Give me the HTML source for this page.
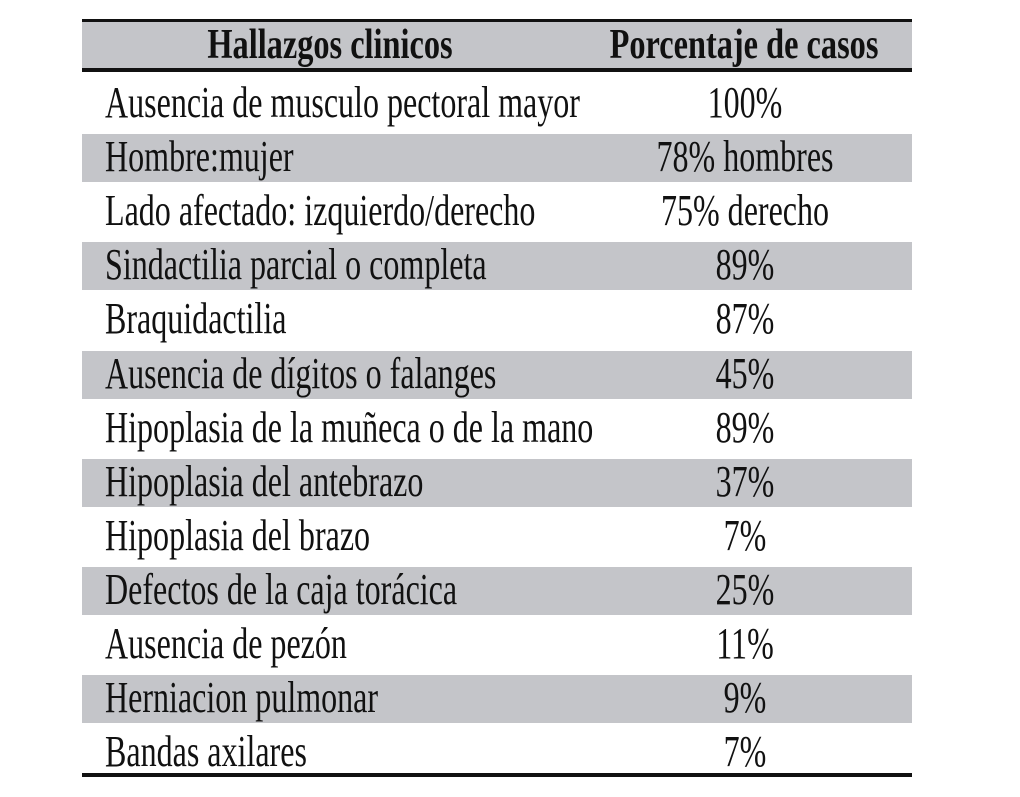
<!DOCTYPE html>
<html><head><meta charset="utf-8">
<style>
html,body{margin:0;padding:0;background:#fff;}
#tbl{position:relative;width:1020px;height:797px;overflow:hidden;font-family:"Liberation Serif",serif;color:#111;}
.line{position:absolute;left:82px;width:830px;background:#111;}
.band{position:absolute;left:82px;width:830px;background:#c4c5c9;}
.txt{position:absolute;white-space:nowrap;font-size:44px;line-height:44px;}
.l{left:105px;transform:scaleX(0.728);transform-origin:0 50%;}
.r{left:745px;transform:translateX(-50%) scaleX(0.728);transform-origin:50% 50%;}
.h{font-weight:bold;font-size:42px;}
</style></head>
<body>
<div id="tbl">
  <div class="line" style="top:19px;height:3px"></div>
  <div class="band" style="top:22px;height:46px"></div>
  <div class="line" style="top:68px;height:4px"></div>
  <div class="txt h" style="left:330px;top:23px;transform:translateX(-50%) scaleX(0.77)">Hallazgos clinicos</div>
  <div class="txt h" style="left:744px;top:23px;transform:translateX(-50%) scaleX(0.77)">Porcentaje de casos</div>
  <div class="line" style="top:773px;height:4px"></div>
</div>
<script>
const findings = ["Ausencia de musculo pectoral mayor","Hombre:mujer","Lado afectado: izquierdo/derecho","Sindactilia parcial o completa","Braquidactilia","Ausencia de dígitos o falanges","Hipoplasia de la muñeca o de la mano","Hipoplasia del antebrazo","Hipoplasia del brazo","Defectos de la caja torácica","Ausencia de pezón","Herniacion pulmonar","Bandas axilares"];
const percentages = ["100%","78% hombres","75% derecho","89%","87%","45%","89%","37%","7%","25%","11%","9%","7%"];
const shaded = [false,true,false,true,false,true,false,true,false,true,false,true,false];
const tbl = document.getElementById('tbl');
const pitch = 54.1;
for (let i = 0; i < findings.length; i++) {
  const center = 104 + i * pitch;
  if (shaded[i]) {
    const b = document.createElement('div');
    b.className = 'band';
    b.style.top = (center - 24) + 'px';
    b.style.height = '48px';
    
    
    tbl.insertBefore(b, tbl.firstChild);
  }
  const a = document.createElement('div');
  a.className = 'txt l';
  a.style.top = (center - 23) + 'px';
  a.textContent = findings[i];
  
  
  tbl.appendChild(a);
  const p = document.createElement('div');
  p.className = 'txt r';
  p.style.top = (center - 23) + 'px';
  p.textContent = percentages[i];
  
  
  tbl.appendChild(p);
}
</script>
</body></html>
